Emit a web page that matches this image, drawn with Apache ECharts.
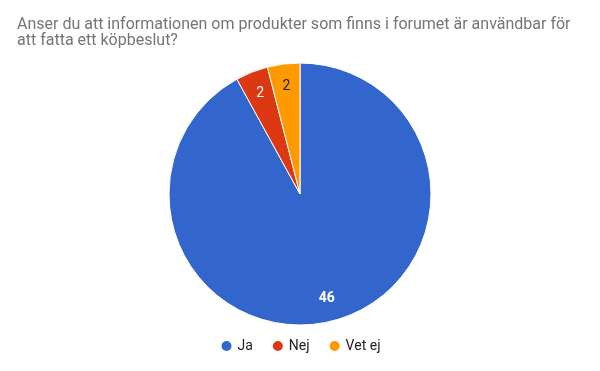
<!DOCTYPE html>
<html><head><meta charset="utf-8">
<script src="https://cdn.jsdelivr.net/npm/echarts@6/dist/echarts.min.js"></script>
<style>html,body{margin:0;padding:0;background:#fff}#c{width:600px;height:371px}</style>
</head><body><div id="c"></div>
<script>
const titleText = "Anser du att informationen om produkter som finns i forumet är användbar för\natt fatta ett köpbeslut?";
const categories = ["Ja", "Nej", "Vet ej"];
const values = [46, 2, 2];
const colors = ["#3366cc", "#dc3912", "#ff9900"];
const labelColors = ["#ffffff", "#ffffff", "#222222"];
const labelWeights = ["bold", "normal", "normal"];

const chart = echarts.init(document.getElementById('c'));
const base = categories.map((n, i) => ({name: n, value: values[i], itemStyle: {color: colors[i]}}));
chart.setOption({
  animation: false,
  title: {text: titleText, left: 12, top: 12,
    textStyle: {fontFamily: 'Roboto', fontSize: 16, fontWeight: 'normal', color: '#757575', lineHeight: 16}},
  legend: {data: categories, bottom: 13, left: 'center', icon: 'circle', itemWidth: 12, itemHeight: 12, itemGap: 18,
    textStyle: {fontFamily: 'Roboto', fontSize: 14, color: '#222222'}},
  series: [
    {type: 'pie', radius: 131, center: [300, 194], startAngle: 90, clockwise: true,
     itemStyle: {borderColor: '#fff', borderWidth: 1}, label: {show: false}, labelLine: {show: false},
     emphasis: {disabled: true}, data: base},
    {type: 'pie', radius: [79, 131], center: [300, 194], startAngle: 90, clockwise: true, silent: true,
     legendHoverLink: false,
     itemStyle: {color: 'rgba(0,0,0,0)'}, labelLine: {show: false}, emphasis: {disabled: true},
     label: {show: true, position: 'inside', formatter: '{c}', fontFamily: 'Roboto', fontSize: 14},
     data: categories.map((n, i) => ({name: n, value: values[i], itemStyle: {color: 'rgba(0,0,0,0)'},
       label: {color: labelColors[i], fontWeight: labelWeights[i]}}))}
  ]
});
</script></body></html>
